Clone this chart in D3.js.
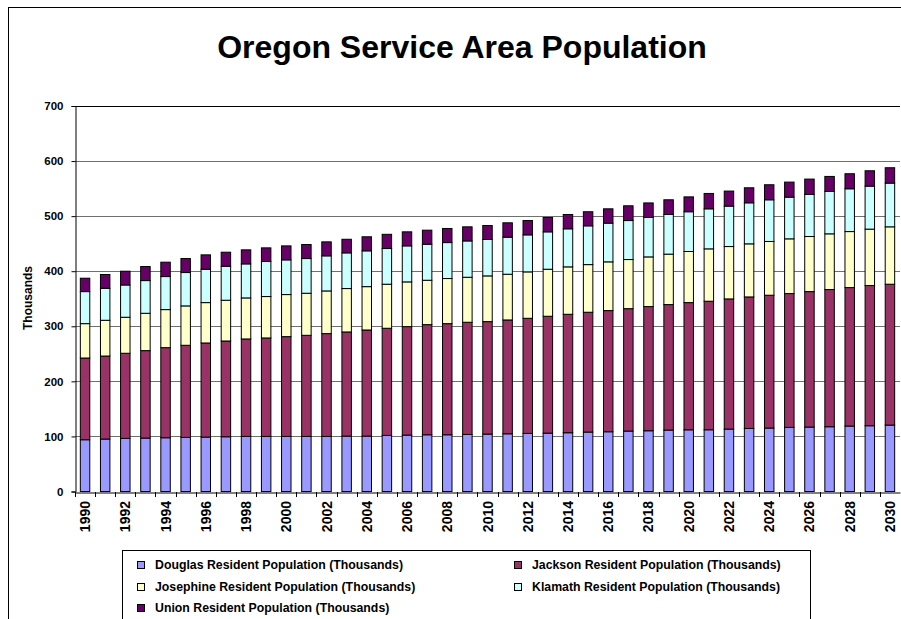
<!DOCTYPE html>
<html><head><meta charset="utf-8">
<script src="https://cdn.jsdelivr.net/npm/d3@7"></script>
<style>
html,body{margin:0;padding:0;background:#fff;}
svg{display:block;font-family:Arial,"Liberation Sans",sans-serif;}
</style></head>
<body><svg id="c" width="901" height="619"></svg>
<script>
const years = d3.range(1990, 2031).map(String);
const tickLabels = years.filter((y,i)=>i%2===0);
const douglas = [94,95.2,96.4,97,97.6,98.2,98.8,99.4,100,100,100,100,100,100.6,100.6,101.8,102.4,103,103,103.6,104.2,104.8,105.5,106,106.7,107.9,108.5,109.7,110.3,111.5,112,112.1,113.3,114.5,115.2,116.4,117,117.6,118.8,119.4,120.6];
const jackson = [148.4,150.8,154.6,158.8,163.6,167.3,170.9,173.9,177,178.8,181.2,183.6,186.7,189.1,192.7,194.6,197,200,201.8,203.7,204.3,206.7,209,212.2,215.1,217.6,220,222.3,225.5,227.9,231,233.4,236.4,238.8,241.2,243,246,249.1,251.5,254.6,255.8];
const josephine = [62.4,64.9,65.4,67.8,69.1,71.5,73.3,74,74.5,75.2,76.4,76.4,77.5,78.8,78.7,80,81.2,80.6,81.9,81.7,83,83,84.3,85.4,86.1,86.5,88.5,89.2,90.2,91.6,92.8,95.1,95.1,96.4,97.6,99.4,100,101.2,101.7,102.4,104.2];
const klamath = [58.2,58.1,58.6,59.4,60,60.6,60.6,61.7,61.8,63.6,63,63,63.7,64.8,65,64.8,65.4,65.4,65.3,66,66.1,67.3,67.2,67.9,69.1,70.4,70.3,70.8,71.6,72,72.2,72.7,73.4,74.5,75.7,75.7,76.4,76.9,77.7,78.1,79.4];
const union = [24.3,25,25,25.5,26.1,25.4,26.1,25.5,25.5,24.8,25.4,25.5,25.4,24.7,25.5,25.8,25.5,25.5,25.6,25.6,25.4,26.1,26,26.1,26,25.6,26,26.8,26.4,26.7,27,27.9,27.3,27.3,27.3,27.3,27.9,27.3,27.3,27.9,27.9];
const seriesNames = ["Douglas Resident Population (Thousands)","Jackson Resident Population (Thousands)","Josephine Resident Population (Thousands)","Klamath Resident Population (Thousands)","Union Resident Population (Thousands)"];
const colors = ["#9999FF","#993366","#FFFFCC","#CCFFFF","#660066"];
const yTicks = [0,100,200,300,400,500,600,700];

const keys = ["douglas","jackson","josephine","klamath","union"];
const arrays = [douglas,jackson,josephine,klamath,union];
const table = years.map((y,i)=>{const o={year:y}; keys.forEach((k,j)=>o[k]=arrays[j][i]); return o;});
const stacked = d3.stack().keys(keys)(table);

const svg = d3.select("#c");
const FONT = "Arial,'Liberation Sans',sans-serif";
// outer border
svg.append("rect").attr("x",8.5).attr("y",7.5).attr("width",1000).attr("height",1000)
  .attr("fill","none").attr("stroke","#000").attr("stroke-width",1);

const L=75, R=900, T=106, B=491.5;
const x = d3.scaleBand().domain(years).range([L,R]).paddingInner(0.53).paddingOuter(0.265);
const xb = d3.scaleBand().domain(years).range([L,R]);
const y = d3.scaleLinear().domain([0,700]).range([B,T]);

svg.append("text").attr("x",462).attr("y",58).attr("text-anchor","middle")
  .attr("font-size",32).attr("font-weight","bold").text("Oregon Service Area Population");

// gridlines
svg.append("g").selectAll("line").data(yTicks.filter(d=>d>0)).join("line")
  .attr("x1",L).attr("x2",R).attr("y1",d=>Math.round(y(d))+0.5).attr("y2",d=>Math.round(y(d))+0.5)
  .attr("stroke",d=>d===700?"#000":"#707070").attr("stroke-width",1);

// bars
svg.append("g").selectAll("g").data(stacked).join("g").attr("fill",(d,i)=>colors[i])
  .selectAll("rect").data(d=>d).join("rect")
  .attr("x",d=>x(d.data.year)).attr("width",x.bandwidth())
  .attr("y",d=>y(d[1])).attr("height",d=>y(d[0])-y(d[1]))
  .attr("stroke","#000").attr("stroke-width",1);

// y axis
const ya = svg.append("g").attr("transform",`translate(${L+0.5},0)`)
  .call(d3.axisLeft(y).tickValues(yTicks).tickSize(4).tickPadding(8));
ya.select(".domain").attr("stroke","#000");
ya.selectAll("text").attr("font-size",11.5).attr("font-weight","bold").attr("font-family",FONT).attr("fill","#000");
ya.selectAll("line").attr("stroke","#000");

// x axis
const xa = svg.append("g").attr("transform",`translate(0,${Math.round(B)+0.5})`)
  .call(d3.axisBottom(xb).tickSize(0).tickFormat(""));
xa.select(".domain").attr("stroke","#000");
// tick marks between categories
svg.append("g").selectAll("line").data(years).join("line")
  .attr("x1",d=>Math.round(xb(d))+0.5).attr("x2",d=>Math.round(xb(d))+0.5)
  .attr("y1",Math.round(B)).attr("y2",Math.round(B)+5).attr("stroke","#000");
// rotated labels
svg.append("g").selectAll("text").data(tickLabels).join("text")
  .attr("transform",d=>`translate(${xb(d)+xb.bandwidth()/2+5},${Math.round(B)+9}) rotate(-90)`)
  .attr("text-anchor","end").attr("font-size",14).attr("font-weight","bold").text(d=>d);

// y title
svg.append("text").attr("transform","translate(32,298) rotate(-90)").attr("text-anchor","middle")
  .attr("font-size",12).attr("font-weight","bold").text("Thousands");

// legend
svg.append("rect").attr("x",122.5).attr("y",550.5).attr("width",688).attr("height",100)
  .attr("fill","#fff").attr("stroke","#000");
const pos = [[137,565],[514,565],[137,587],[514,587],[137,608]];
const lg = svg.append("g").selectAll("g").data(seriesNames).join("g")
  .attr("transform",(d,i)=>`translate(${pos[i][0]},${pos[i][1]})`);
lg.append("rect").attr("x",0.5).attr("y",-3.5).attr("width",7).attr("height",7)
  .attr("fill",(d,i)=>colors[i]).attr("stroke","#000");
lg.append("text").attr("x",18).attr("y",4.3).attr("font-size",12.3).attr("font-weight","bold").text(d=>d);
</script></body></html>
